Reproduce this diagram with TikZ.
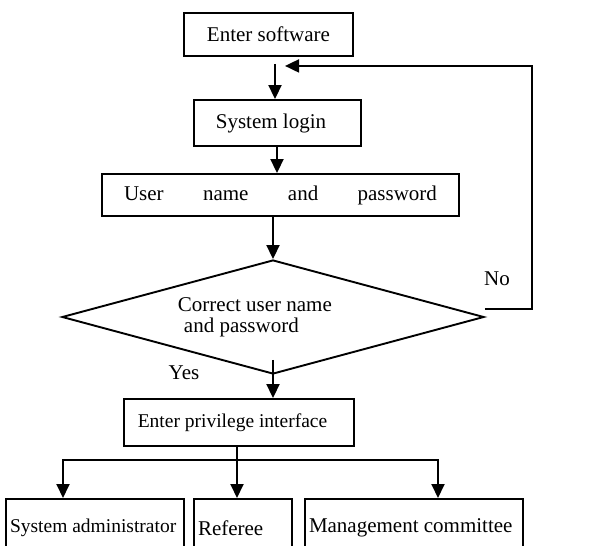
\documentclass[tikz,border=0pt]{standalone}
\usepackage{fontspec}
\setmainfont{Liberation Serif}
\usetikzlibrary{shapes.geometric,arrows.meta}
\begin{document}
\begin{tikzpicture}[x=1pt,y=-1pt, line width=1.9pt,
  txt/.style={font=\fontsize{21}{21}\selectfont},
  smalltxt/.style={font=\fontsize{19.5}{20}\selectfont},
  box/.style={draw, rectangle, inner sep=0pt, txt},
  bbox/.style={draw, rectangle, inner ysep=0pt, inner xsep=4pt, anchor=north, minimum height=58pt, txt},
  dec/.style={draw, diamond, aspect=3.7, minimum width=422pt, minimum height=114pt, inner sep=0pt},
  arr/.style={-{Triangle[length=14pt,width=13pt]}},
  lab/.style={inner sep=0pt, txt}]
\useasboundingbox (0,0) rectangle (603,546);
\clip (0,0) rectangle (603,546);

\node[box, minimum width=169pt, minimum height=43pt] (es) at (268.5,34.5) {Enter software};
\node[box, minimum width=167pt, minimum height=46pt] (sl) at (277.5,123) {\hspace*{-13pt}System login};
\node[box, minimum width=357pt, minimum height=42pt] (up) at (280.5,195)
  {\makebox[313pt][s]{User\hfil name\hfil and\hfil password}};
\node[dec] (d) at (273,317) {};
\node[lab, align=left, anchor=west] (dt) at (177,317) {Correct user name\\\hspace*{6pt}and password};
\node[box, smalltxt, minimum width=230pt, minimum height=47pt] (pi) at (239,422.5) {\hspace*{-13pt}Enter privilege interface};

\node[bbox, smalltxt, minimum width=178pt] (sa) at (95,498) {\makebox[170pt][l]{System administrator}};
\node[bbox, minimum width=98pt] (rf) at (243,498) {\makebox[90pt][l]{Referee}};
\node[bbox, minimum width=218pt] (mc) at (414,498) {\makebox[210pt][l]{Management committee}};

\node[lab] (no) at (497,279) {No};
\node[lab] (yes) at (184,373) {Yes};

\coordinate (ret) at ([xshift=16.5pt,yshift=-9pt]es.south);

\draw[arr] ([xshift=6.5pt,yshift=-7pt]es.south) -- ([xshift=-2.5pt]sl.north);
\draw[arr] ([xshift=-0.5pt]sl.south) -- ([xshift=-0.5pt]sl.south |- up.north);
\draw[arr] (up.south -| d.north) -- (d.north);
\draw[arr] ([yshift=15pt]d.south) -- (d.south |- pi.north);
\draw[arr] ([yshift=8pt]d.east) -- ++(47,0) |- (ret);

\draw ([xshift=-2pt]pi.south) -- ++(0,13) coordinate (br);
\draw[arr] (br) -| ([xshift=-32pt]sa.north);
\draw[arr] (br) -| ([xshift=-6pt]rf.north);
\draw[arr] (br) -| ([xshift=24pt]mc.north);
\end{tikzpicture}
\end{document}
